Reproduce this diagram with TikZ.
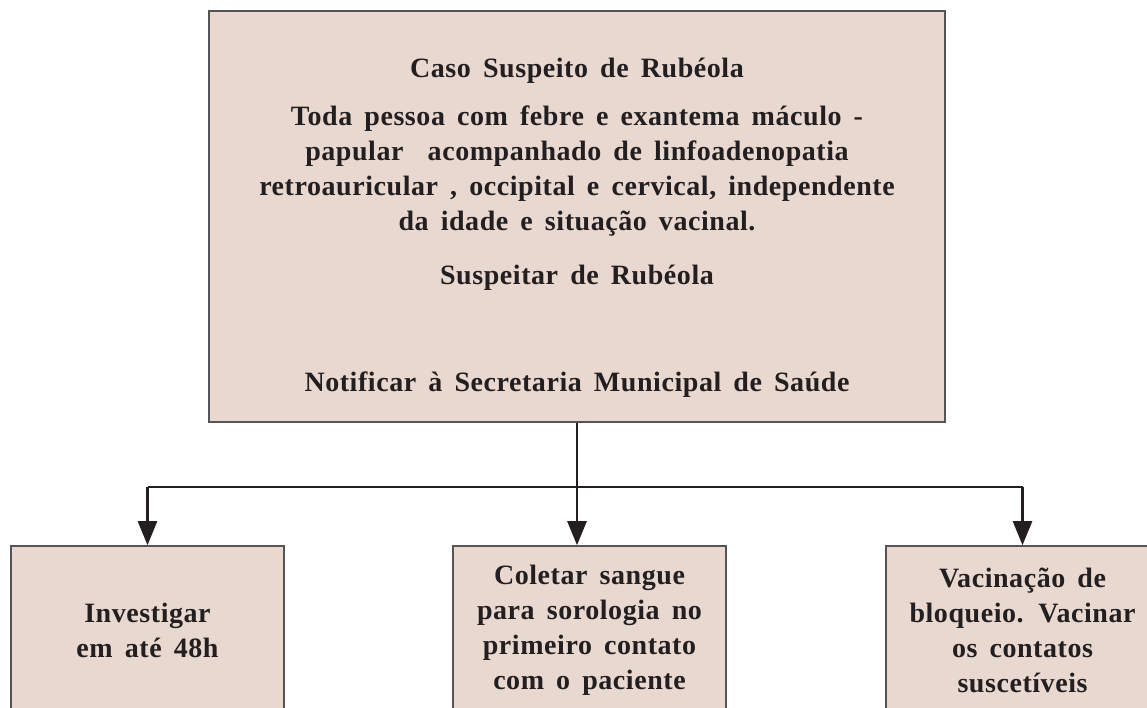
\documentclass[tikz,border=0pt]{standalone}
\usepackage{fontspec}
\setmainfont{Liberation Serif}[LetterSpace=2,WordSpace=1.6]
\usepackage{tikz}
\usetikzlibrary{positioning,arrows.meta,calc}
\definecolor{ink}{HTML}{231F20}
\definecolor{borda}{HTML}{555555}
\definecolor{rosado}{HTML}{E8D8D0}
\tikzset{
  caixa/.style={rectangle, draw=borda, fill=rosado, line width=1.6pt, inner sep=0pt,
    minimum width=#1, align=center, text=ink,
    font=\bfseries\fontsize{28}{35}\selectfont},
  caixa/.default=273pt,
  txt/.style={font=\bfseries\fontsize{28}{35}\selectfont, text=ink, align=center, inner sep=0pt},
  linha/.style={line width=2.6pt, color=ink},
  seta/.style={linha, -{Triangle[length=24pt,width=19pt]}},
}
\begin{document}
\begin{tikzpicture}[x=1pt,y=1pt]
  \useasboundingbox (0,0) rectangle (1147,-708);
  \clip (0,0) rectangle (1147,-708);
  \node[caixa=736pt, minimum height=411pt] (caso) at (577,-216.5) {};
  \node[txt, anchor=base] (titulo) at (577,-78) {Caso Suspeito de Rubéola};
  \node[txt, anchor=center] (defin) at (577,-171.5) {Toda pessoa com febre e exantema máculo -\\
    papular~ acompanhado de linfoadenopatia\\
    retroauricular , occipital e cervical, independente\\
    da idade e situação vacinal.};
  \node[txt, anchor=base] (suspeitar) at (577,-285) {Suspeitar de Rubéola};
  \node[txt, anchor=base] (notificar) at (577,-391) {Notificar à Secretaria Municipal de Saúde};
  \node[caixa, minimum height=168pt] (inv) at (147.5,-630) {Investigar\\em até 48h};
  \node[caixa, minimum height=168pt] (col) at (589.5,-630) {Coletar sangue\\para sorologia no\\primeiro contato\\com o paciente};
  \node[caixa, minimum height=168pt] (vac) at (1022.5,-630) {Vacinação de\\bloqueio. Vacinar\\os contatos\\suscetíveis};
  \coordinate (barra) at (580,-487);
  \draw[seta] (caso.south) -- (caso.south |- col.north);
  \draw[linha] (inv.north |- barra) -- (vac.north |- barra);
  \draw[seta] (inv.north |- barra) -- (inv.north);
  \draw[seta] (vac.north |- barra) -- (vac.north);
\end{tikzpicture}
\end{document}
